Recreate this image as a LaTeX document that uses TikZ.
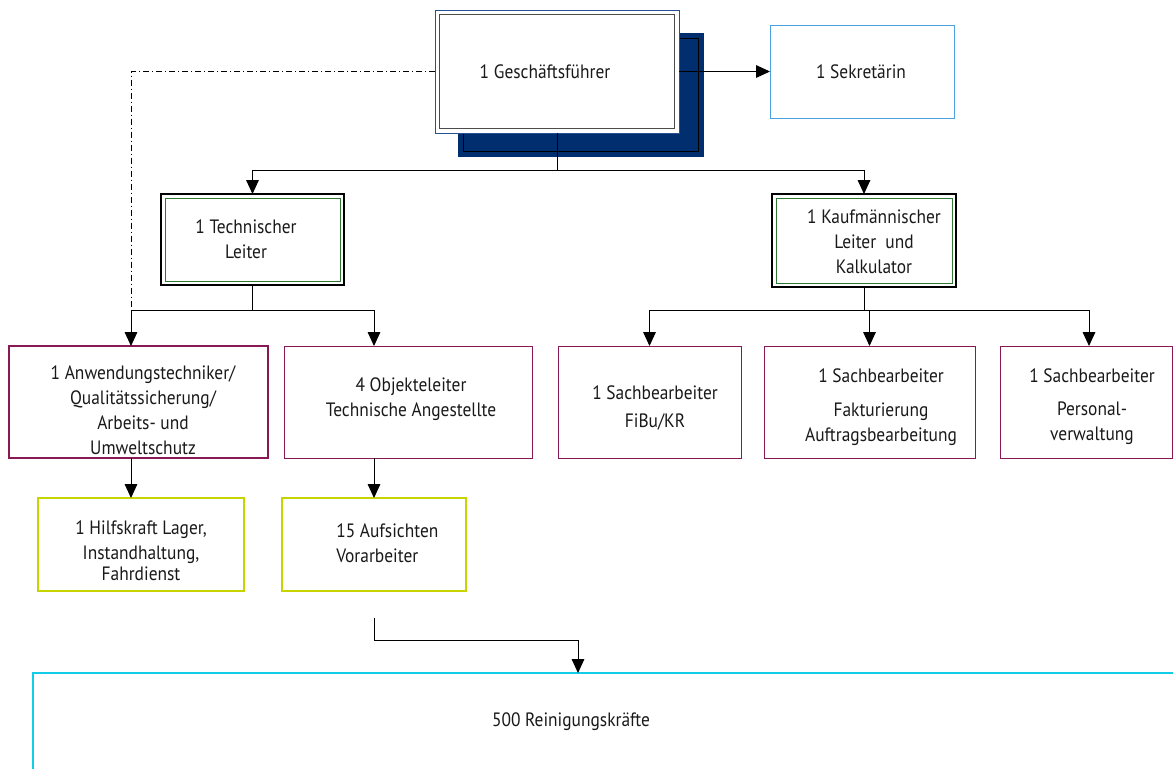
\documentclass[tikz,border=0pt]{standalone}
\usepackage{fontspec}
\setmainfont{PT Sans}[FakeStretch=0.9]
\usetikzlibrary{arrows.meta,calc}
\definecolor{navy}{RGB}{0,46,110}
\definecolor{gfblue}{RGB}{40,80,150}
\definecolor{sekblue}{RGB}{75,160,225}
\definecolor{dgreen}{RGB}{46,120,50}
\definecolor{plum}{RGB}{135,25,85}
\definecolor{lime}{RGB}{200,212,0}
\definecolor{cyanb}{RGB}{18,205,232}
\tikzset{
  sz/.style 2 args={minimum width=#1*0.75pt,minimum height=#2*0.75pt},
  bx/.style={draw,inner sep=0pt,outer sep=0pt,line width=0.75pt},
  txt/.style={align=center,inner sep=0pt,text=black!90,font=\fontsize{14.5}{18.75}\selectfont},
  conn/.style={line width=0.75pt,black},
  arr/.style={conn,-{Triangle[length=10.5pt,width=9.5pt]}},
  dd/.style={line width=0.5pt,black,dash pattern=on 4.5pt off 2.25pt on 0.75pt off 2.25pt},
}
\begin{document}
\begin{tikzpicture}[x=0.75pt,y=-0.75pt]
\useasboundingbox (0,0) rectangle (1173,768);
\clip (0,0) rectangle (1173,768);
% top
\node[bx,draw=navy,fill=navy,sz={245}{123}] (gfs) at (580.5,94.5) {};
\draw[black,line width=0.75pt] ([shift={(5,5)}]gfs.north west) rectangle ([shift={(-5,-5)}]gfs.south east);
\node[bx,draw=gfblue,fill=white,sz={244}{123}] (gf) at (557,71.5) {};
\draw[gray!60!black,line width=0.75pt] ([shift={(4.5,4.5)}]gf.north west) rectangle ([shift={(-4.5,-4.5)}]gf.south east);
\node[txt] (gft) at (545,72) {1 Geschäftsführer};
\node[bx,draw=sekblue,sz={184}{93}] (sek) at (862,71.5) {};
\node[txt] (sekt) at (861,72) {1 Sekretärin};
% leaders
\node[bx,line width=1pt,sz={183}{91}] (tl) at (252.5,239.5) {};
\draw[dgreen,line width=0.75pt] ([shift={(4,4)}]tl.north west) rectangle ([shift={(-4,-4)}]tl.south east);
\node[txt] (tlt) at (246,239.5) {1 Technischer\\Leiter};
\node[bx,line width=1pt,sz={184}{93}] (kl) at (864,240.5) {};
\draw[dgreen,line width=0.75pt] ([shift={(4,4)}]kl.north west) rectangle ([shift={(-4,-4)}]kl.south east);
\node[txt] (klt) at (874,241.5) {1 Kaufmännischer\\Leiter~~und\\Kalkulator};
% row 3
\node[bx,draw=plum,line width=1.6pt,sz={259}{112}] (anw) at (138.5,402) {};
\node[txt] (anwt) at (143,410) {1 Anwendungstechniker/\\Qualitätssicherung/\\Arbeits- und\\Umweltschutz};
\node[bx,draw=plum,sz={248}{112}] (obj) at (408,402) {};
\node[txt] (objt) at (411,399) {4 Objekteleiter\\Technische Angestellte};
\node[bx,draw=plum,sz={183}{112}] (fibu) at (649.5,402) {};
\node[txt] (fibut) at (655,408) {1 Sachbearbeiter\\[2pt]FiBu/KR};
\node[bx,draw=plum,sz={211}{112}] (fakt) at (869.5,402) {};
\node[txt] (faktt) at (881,407) {1 Sachbearbeiter\\[7pt]Fakturierung\\Auftragsbearbeitung};
\node[bx,draw=plum,sz={172}{112}] (pers) at (1086,402) {};
\node[txt] (perst) at (1092,407) {1 Sachbearbeiter\\[6pt]Personal-\\verwaltung};
% row 4
\node[bx,draw=lime,line width=1.5pt,sz={206}{93}] (hilf) at (141,544.5) {};
\node[txt] (hilft) at (141,550.5) {1 Hilfskraft Lager,\\Instandhaltung,\\[-3pt]Fahrdienst};
\node[bx,draw=lime,line width=1.5pt,sz={184}{93}] (auf) at (374,544.5) {};
\node[txt,align=left,anchor=west] (auft) at (336,543.5) {15 Aufsichten\\Vorarbeiter};
% bottom
\node[bx,draw=cyanb,line width=1.5pt,sz={1167}{127}] (rein) at (616.5,736.5) {};
\node[txt] (reint) at (571,722) {500 Reinigungskräfte};
% connectors
\draw[arr] (gf.east) -- (sek.west);
\coordinate (jg) at ($(gf.south)+(0,37)$);
\draw[conn] (gf.south) -- (jg);
\draw[arr] (jg) -| (tl.north);
\draw[arr] (jg) -| (kl.north);
\coordinate (jt) at ($(tl.south)+(0,25)$);
\coordinate (ja) at ($(anw.north west)+(122,-36)$);
\draw[conn] (tl.south) -- (jt);
\draw[arr] (jt) -| ([xshift=91.5pt]anw.north west);
\draw[arr] (jt) -| ([xshift=67.5pt]obj.north west);
\draw[dd] (gf.west) -| (ja);
\coordinate (jk) at ($(kl.south)+(0,23)$);
\draw[conn] (kl.south) -- (jk);
\draw[arr] (jk) -| (fibu.north);
\draw[arr] (jk) -| (fakt.north);
\draw[arr] (jk) -| ([xshift=2.25pt]pers.north);
\draw[arr] ([xshift=91.5pt]anw.south west) -- ([xshift=69.75pt]hilf.north west);
\draw[arr] ([xshift=67.5pt]obj.south west) -- (auf.north);
\coordinate (jf) at ($(auf.south)+(0,27)$);
\coordinate (jf2) at ($(jf)+(0,22)$);
\draw[arr] (jf) -- (jf2) -| ([xshift=408.75pt]rein.north west);
\end{tikzpicture}
\end{document}
